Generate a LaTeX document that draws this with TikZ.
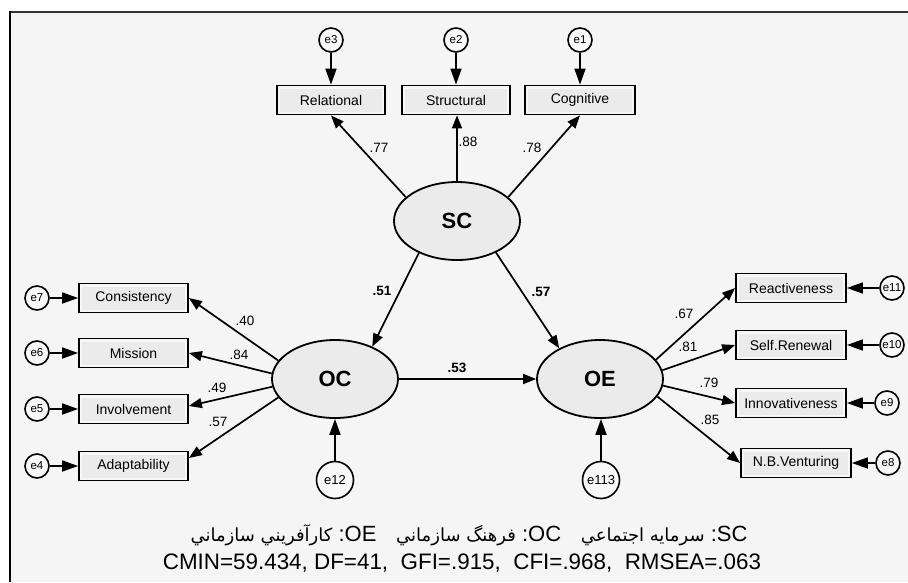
\documentclass[tikz,border=0pt]{standalone}
\usepackage{fontspec}
\setmainfont{Liberation Sans}
\newfontfamily\arabicfont[Script=Arabic]{DejaVu Sans}
\TeXXeTstate=1
\usetikzlibrary{arrows.meta,shapes.geometric}
\definecolor{bgc}{HTML}{F5F5F5}
\definecolor{boxout}{HTML}{F7F7F7}
\definecolor{boxin}{HTML}{EBEBEB}
\definecolor{ellfill}{HTML}{EBEBEB}
\definecolor{errfill}{HTML}{F8F8F8}
\tikzset{
  obs/.style={rectangle, draw, line width=1.8pt, minimum width=108pt, minimum height=29pt,
    inner sep=0pt, fill=boxout, font=\fontsize{14}{16}\selectfont,
    path picture={\fill[boxin] ([shift={(3pt,-3pt)}]path picture bounding box.north west)
      rectangle ([shift={(-3pt,3pt)}]path picture bounding box.south east);}},
  latent/.style={ellipse, draw, line width=1.8pt, fill=ellfill, minimum width=126pt,
    minimum height=78pt, inner sep=0pt, font=\bfseries\fontsize{22}{24}\selectfont},
  err/.style={circle, draw, line width=1.6pt, fill=errfill, minimum size=24pt,
    inner sep=0pt, font=\fontsize{11.5}{12}\selectfont},
  errbig/.style={err, minimum size=37pt, font=\fontsize{13}{14}\selectfont},
  lbl/.style={inner sep=1pt, font=\fontsize{13.5}{15}\selectfont},
  lblb/.style={inner sep=1pt, font=\bfseries\fontsize{13.5}{15}\selectfont},
  conn/.style={draw, line width=1.7pt, -{Triangle[length=13pt,width=10pt]}},
  econn/.style={draw, line width=1.7pt, -{Triangle[length=16pt,width=11pt]}},
}
\begin{document}
\begin{tikzpicture}[x=1pt,y=-1pt]
\useasboundingbox (0,0) rectangle (908,582);
\fill[white] (0,0) rectangle (908,582);
\fill[bgc] (10,12) rectangle (908,582);
\draw[line width=1.5pt, black!80] (10,12) -- (908,12);
\draw[line width=2.5pt] (10,582) -- (10,11.3);

% latent variables
\node[latent] (SC) at (457,221) {SC};
\node[latent] (OC) at (335,379) {OC};
\node[latent] (OE) at (600,379) {OE};

% SC indicators
\node[obs] (rel) at (331,100) {Relational};
\node[obs] (str) at (456,100) {Structural};
\node[obs, minimum width=110pt] (cog) at (580,100) {Cognitive};
\node[err] (e3) at (331,40) {e3};
\node[err] (e2) at (456,40) {e2};
\node[err] (e1) at (580,40) {e1};

% OC indicators
\node[obs, minimum width=109pt] (cons) at (133.5,298) {Consistency};
\node[obs, minimum width=109pt] (mis) at (133.5,353) {Mission};
\node[obs, minimum width=109pt] (inv) at (133.5,409) {Involvement};
\node[obs, minimum width=109pt] (ada) at (133.5,466) {Adaptability};
\node[err] (e7) at (37,298) {e7};
\node[err] (e6) at (37,353) {e6};
\node[err] (e5) at (37,409) {e5};
\node[err] (e4) at (37,466) {e4};

% OE indicators
\node[obs, minimum width=110pt] (rea) at (791,288) {Reactiveness};
\node[obs, minimum width=110pt] (sel) at (791,345) {Self.Renewal};
\node[obs, minimum width=110pt] (inn) at (791,403) {Innovativeness};
\node[obs, minimum width=110pt] (nbv) at (796,463) {N.B.Venturing};
\node[err] (e11) at (892,288) {e11};
\node[err] (e10) at (892,345) {e10};
\node[err] (e9) at (887,403) {e9};
\node[err] (e8) at (888,463) {e8};

% disturbances
\node[errbig] (e12) at (335,480) {e12};
\node[errbig] (e113) at (601,480) {e113};

% error arrows
\path[econn] (e3.south) -- (rel.north);
\path[econn] (e2.south) -- (str.north);
\path[econn] (e1.south) -- (cog.north);
\path[econn] (e7.east) -- (cons.west);
\path[econn] (e6.east) -- (mis.west);
\path[econn] (e5.east) -- (inv.west);
\path[econn] (e4.east) -- (ada.west);
\path[econn] (e11.west) -- (rea.east);
\path[econn] (e10.west) -- (sel.east);
\path[econn] (e9.west) -- (inn.east);
\path[econn] (e8.west) -- (nbv.east);
\path[econn] (e12.north) -- (OC.south);
\path[econn] (e113.north) -- (e113.north |- OE.south);

% structural paths
\path[conn] (SC.155) -- (rel.south);
\path[conn] (SC.north) -- (SC.north |- str.south);
\path[conn] (SC.25) -- (cog.south);
\path[conn] (SC.220) -- (OC.41);
\path[conn] (SC.321) -- (OE.143);
\path[conn] (OC.east) -- (OE.west);
\path[conn] (OC.162) -- (cons.east);
\path[conn] (OC.175) -- (mis.east);
\path[conn] (OC.187) -- ([yshift=3pt]inv.east);
\path[conn] (OC.198) -- ([yshift=8pt]ada.east);
\path[conn] (OE.19) -- (rea.west);
\path[conn] (OE.8) -- (sel.west);
\path[conn] (OE.-6) -- (inn.west);
\path[conn] (OE.-17.5) -- (nbv.west);

% coefficients
\node[lbl] (l77) at (379,148) {.77};
\node[lbl] (l88) at (468,142) {.88};
\node[lbl] (l78) at (532,148) {.78};
\node[lblb] (l51) at (382,291) {.51};
\node[lblb] (l57) at (541,292) {.57};
\node[lblb] (l53) at (457,368) {.53};
\node[lbl] (l40) at (245,321) {.40};
\node[lbl] (l84) at (239,355) {.84};
\node[lbl] (l49) at (217,388) {.49};
\node[lbl] (l57b) at (218,422) {.57};
\node[lbl] (l67) at (684,314) {.67};
\node[lbl] (l81) at (688,347) {.81};
\node[lbl] (l79) at (709,383) {.79};
\node[lbl] (l85) at (710,420) {.85};

% legend
\node[inner sep=0pt, font=\fontsize{22}{24}\selectfont] (legend) at (469,535)
  {\beginR\beginL :SC\endL\ {\arabicfont\fontsize{18}{22}\selectfont سرمايه اجتماعي}\hspace{0.9em}\beginL :OC\endL\ {\arabicfont\fontsize{18}{22}\selectfont فرهنگ سازماني}\hspace{0.9em}\beginL :OE\endL\ {\arabicfont\fontsize{18}{22}\selectfont كارآفريني سازماني}\endR};
\node[inner sep=0pt, font=\fontsize{22.4}{24}\selectfont] (fit) at (462,563)
  {CMIN=59.434, DF=41,\ \ GFI=.915,\ \ CFI=.968,\ \ RMSEA=.063};
\end{tikzpicture}
\end{document}
